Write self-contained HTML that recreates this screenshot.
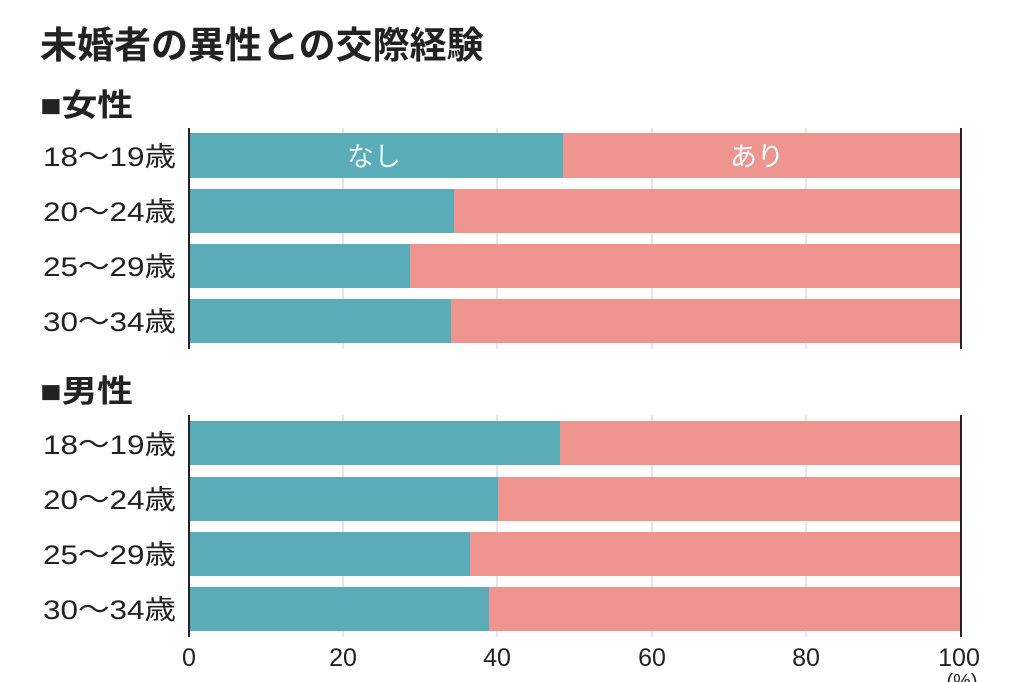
<!DOCTYPE html>
<html><head><meta charset="utf-8"><style>
html,body{margin:0;padding:0;background:#fff;}
svg{display:block}
text{font-family:"Liberation Sans","Noto Sans CJK JP",sans-serif;}
</style></head><body>
<svg width="1024" height="682" viewBox="0 0 1024 682" xmlns="http://www.w3.org/2000/svg">
<text x="40" y="58" font-size="37" font-weight="bold" fill="#222">未婚者の異性との交際経験</text>
<text x="40" y="116" font-size="31" font-weight="bold" fill="#222" textLength="93" lengthAdjust="spacingAndGlyphs">■女性</text>
<text x="40" y="402" font-size="31" font-weight="bold" fill="#222" textLength="93" lengthAdjust="spacingAndGlyphs">■男性</text>
<g stroke="#ddd" stroke-width="1.5">
<line x1="343" y1="128" x2="343" y2="349"/><line x1="497" y1="128" x2="497" y2="349"/><line x1="652" y1="128" x2="652" y2="349"/><line x1="806" y1="128" x2="806" y2="349"/>
<line x1="343" y1="415" x2="343" y2="637"/><line x1="497" y1="415" x2="497" y2="637"/><line x1="652" y1="415" x2="652" y2="637"/><line x1="806" y1="415" x2="806" y2="637"/>
</g>
<g>
<rect x="189" y="133" width="772" height="45" fill="#ef9590"/><rect x="189" y="133" width="374" height="45" fill="#5bacb9"/>
<rect x="189" y="189" width="772" height="44" fill="#ef9590"/><rect x="189" y="189" width="265" height="44" fill="#5bacb9"/>
<rect x="189" y="244" width="772" height="44" fill="#ef9590"/><rect x="189" y="244" width="221" height="44" fill="#5bacb9"/>
<rect x="189" y="299" width="772" height="44" fill="#ef9590"/><rect x="189" y="299" width="262" height="44" fill="#5bacb9"/>
<rect x="189" y="421" width="772" height="44" fill="#ef9590"/><rect x="189" y="421" width="371" height="44" fill="#5bacb9"/>
<rect x="189" y="477" width="772" height="44" fill="#ef9590"/><rect x="189" y="477" width="309" height="44" fill="#5bacb9"/>
<rect x="189" y="532" width="772" height="44" fill="#ef9590"/><rect x="189" y="532" width="281" height="44" fill="#5bacb9"/>
<rect x="189" y="587" width="772" height="44" fill="#ef9590"/><rect x="189" y="587" width="300" height="44" fill="#5bacb9"/>
</g>
<text x="374" y="166" font-size="27" fill="#e8f6f8" text-anchor="middle">なし</text>
<text x="757" y="166" font-size="27" fill="#fff" text-anchor="middle">あり</text>
<g stroke="#222" stroke-width="2">
<line x1="189" y1="128" x2="189" y2="349"/><line x1="961" y1="128" x2="961" y2="349"/>
<line x1="189" y1="415" x2="189" y2="637"/><line x1="961" y1="415" x2="961" y2="637"/>
</g>
<g font-size="27" fill="#222">
<text x="43" y="166" textLength="133" lengthAdjust="spacingAndGlyphs">18〜19歳</text><text x="43" y="221" textLength="133" lengthAdjust="spacingAndGlyphs">20〜24歳</text><text x="43" y="276" textLength="133" lengthAdjust="spacingAndGlyphs">25〜29歳</text><text x="43" y="331" textLength="133" lengthAdjust="spacingAndGlyphs">30〜34歳</text>
<text x="43" y="454" textLength="133" lengthAdjust="spacingAndGlyphs">18〜19歳</text><text x="43" y="509" textLength="133" lengthAdjust="spacingAndGlyphs">20〜24歳</text><text x="43" y="564" textLength="133" lengthAdjust="spacingAndGlyphs">25〜29歳</text><text x="43" y="619" textLength="133" lengthAdjust="spacingAndGlyphs">30〜34歳</text>
</g>
<g font-size="25" fill="#222" text-anchor="middle">
<text x="189" y="666">0</text><text x="343" y="666">20</text><text x="497" y="666">40</text><text x="652" y="666">60</text><text x="806" y="666">80</text><text x="959" y="666">100</text>
<text x="962" y="688" font-size="20">(%)</text>
</g>
</svg>
</body></html>
